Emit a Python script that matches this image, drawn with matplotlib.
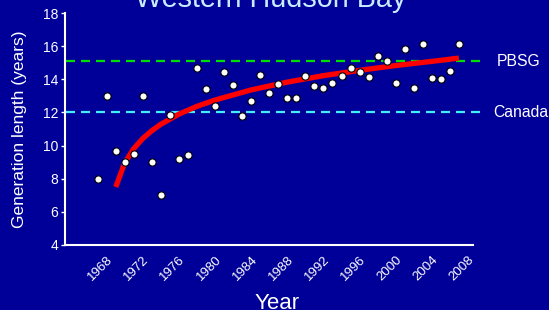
import matplotlib
matplotlib.use("Agg")
import matplotlib.pyplot as plt
import matplotlib.transforms as mtransforms

plt.rcParams['font.family'] = ['Liberation Sans', 'DejaVu Sans']

years = list(range(1967, 2008))
gen_length = [8.0, 13.0, 9.7, 9.0, 9.5, 13.0, 9.0, 7.0, 11.85, 9.2,
              9.45, 14.7, 13.4, 12.4, 14.45, 13.65, 11.8, 12.7, 14.25, 13.15,
              13.7, 12.9, 12.85, 14.2, 13.6, 13.45, 13.75, 14.2, 14.7, 14.45,
              14.15, 15.4, 15.1, 13.8, 15.85, 13.5, 16.1, 14.05, 14.0, 14.5,
              16.1]

trend_years = [1969, 1970, 1971, 1972, 1973, 1974, 1976, 1978, 1980, 1984,
               1988, 1992, 1996, 2000, 2004, 2007]
trend_values = [7.5, 8.97, 9.82, 10.43, 10.90, 11.29, 11.90, 12.37, 12.75, 13.36,
                13.83, 14.22, 14.54, 14.83, 15.08, 15.28]

ref_labels = ["PBSG", "Canada"]
ref_values = [15.1, 12.0]
ref_colors = ["#00dd00", "#44eeff"]

xticks = list(range(1968, 2009, 4))
yticks = list(range(4, 19, 2))

bg = "#000099"
fig = plt.figure(figsize=(5.49, 3.10), dpi=100, facecolor=bg)
ax = fig.add_axes([65/549, 1-245/310, (473-65)/549, (245-13)/310], facecolor=bg)

x0, x1 = 1963.38, 2008.56
label_px = [497, 493]
blend = mtransforms.blended_transform_factory(fig.transFigure, ax.transData)
for lab, val, col, lx in zip(ref_labels, ref_values, ref_colors, label_px):
    ax.plot([x0 + 0.15, 2010.0], [val, val], color=col, lw=1.6, dashes=(4.05, 2.7),
            clip_on=False, zorder=2)
    fig.text(lx/549, val, lab, color="white", fontsize=11.3, va="center",
             ha="left", transform=blend)

ax.plot(trend_years, trend_values, color="#ff0000", lw=3.8,
        solid_capstyle="butt", zorder=3)
ax.plot(years, gen_length, 'o', ms=5.2, mfc="white", mec="black", mew=0.8,
        zorder=4, clip_on=False)

ax.set_xlim(x0, x1)
ax.set_ylim(4, 18)
ax.set_xticks(xticks)
ax.set_xticklabels([str(t) for t in xticks], rotation=45, ha="right",
                   va="top", rotation_mode="anchor", color="white", fontsize=9.5)
ax.set_yticks(yticks)
ax.set_yticklabels([str(t) for t in yticks], color="white", fontsize=10)
ax.tick_params(axis='x', length=0, pad=6)
ax.tick_params(axis='y', length=3, width=1, color="white", pad=2)

for s in ["top", "right"]:
    ax.spines[s].set_visible(False)
for s in ["left", "bottom"]:
    ax.spines[s].set_color("white")
    ax.spines[s].set_linewidth(1.5)

ax.set_ylabel("Generation length (years)", color="white", fontsize=12.5)
ax.yaxis.set_label_coords(-0.094, 0.5)
ax.set_xlabel("Year", color="white", fontsize=16)
ax.xaxis.set_label_coords(0.52, -0.205)

fig.text(271/549, 1-7/310, "Western Hudson Bay", color="#c8ecff", fontsize=20.7,
         ha="center", va="baseline")

fig.savefig("out.png", dpi=100, facecolor=bg)
